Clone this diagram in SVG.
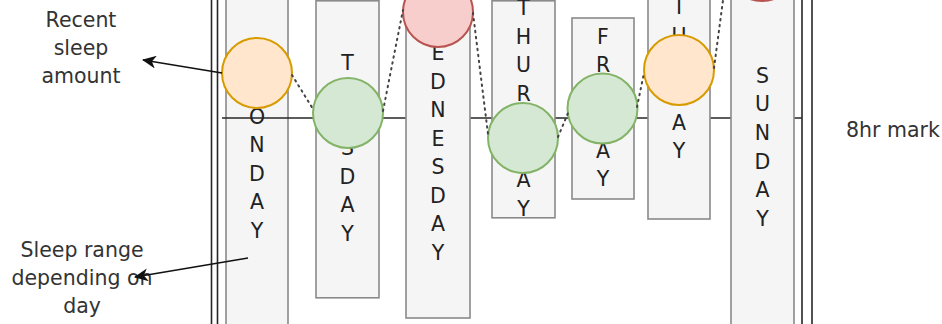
<svg xmlns="http://www.w3.org/2000/svg" width="942" height="324" viewBox="0 0 942 324">
  <style>
    .frame { stroke: #262626; stroke-width: 1.6; fill: none; }
    .bar { fill: #f5f5f5; stroke: #8a8a8a; stroke-width: 1.6; }
    .mark { stroke: #262626; stroke-width: 1.7; fill: none; }
    .day { font-family: "DejaVu Sans", "Liberation Sans", sans-serif; font-size: 20.5px; fill: #222; text-anchor: middle; }
    .label { font-family: "DejaVu Sans", "Liberation Sans", sans-serif; font-size: 20.5px; fill: #333; text-anchor: middle; }
    .dot { stroke: #444; stroke-width: 2; stroke-dasharray: 1.5 4.5; stroke-linecap: round; fill: none; }
    .ptr { stroke: #111; stroke-width: 1.6; fill: none; marker-end: url(#arrow); }
    .ok { fill: #d5e8d4; stroke: #82b366; stroke-width: 2; }
    .warn { fill: #ffe6cc; stroke: #d79b00; stroke-width: 2; }
    .bad { fill: #f8cecc; stroke: #b85450; stroke-width: 2; }
  </style>
  <defs>
    <marker id="arrow" markerWidth="15" markerHeight="13" refX="13" refY="6.5" orient="auto" markerUnits="userSpaceOnUse">
      <path d="M0,0 L14,6.5 L0,13 L4,6.5 Z" fill="#111"/>
    </marker>
  </defs>

  <rect width="942" height="324" fill="#ffffff"/>

  <!-- week frame (double borders) -->
  <g id="frame">
    <line class="frame" x1="211.5" y1="0" x2="211.5" y2="324"/>
    <line class="frame" x1="217.5" y1="0" x2="217.5" y2="324"/>
    <line class="frame" x1="802" y1="0" x2="802" y2="324"/>
    <line class="frame" x1="812" y1="0" x2="812" y2="324"/>
  </g>

  <!-- Monday sits behind the 8hr line -->
  <g id="monday">
    <rect class="bar" x="226" y="-10" width="62" height="345"/>
    <text class="day">
      <tspan x="257" y="95">M</tspan><tspan x="257" y="124">O</tspan><tspan x="257" y="152">N</tspan><tspan x="257" y="181">D</tspan><tspan x="257" y="209">A</tspan><tspan x="257" y="238">Y</tspan>
    </text>
  </g>

  <!-- 8 hour reference line -->
  <g id="eight-hour-line">
    <line class="mark" x1="222" y1="118" x2="802" y2="118"/>
  </g>

  <g id="tuesday">
    <rect class="bar" x="316" y="0.8" width="63" height="297"/>
    <text class="day">
      <tspan x="347.5" y="70">T</tspan><tspan x="347.5" y="98">U</tspan><tspan x="347.5" y="127">E</tspan><tspan x="347.5" y="155">S</tspan><tspan x="347.5" y="184">D</tspan><tspan x="347.5" y="212">A</tspan><tspan x="347.5" y="241">Y</tspan>
    </text>
  </g>

  <g id="wednesday">
    <rect class="bar" x="406" y="-10" width="64" height="328"/>
    <text class="day">
      <tspan x="438" y="32">W</tspan><tspan x="438" y="60">E</tspan><tspan x="438" y="89">D</tspan><tspan x="438" y="117">N</tspan><tspan x="438" y="146">E</tspan><tspan x="438" y="174">S</tspan><tspan x="438" y="203">D</tspan><tspan x="438" y="231">A</tspan><tspan x="438" y="260">Y</tspan>
    </text>
  </g>

  <g id="thursday">
    <rect class="bar" x="492" y="0.8" width="63" height="217"/>
    <text class="day">
      <tspan x="523.5" y="15">T</tspan><tspan x="523.5" y="44">H</tspan><tspan x="523.5" y="72">U</tspan><tspan x="523.5" y="101">R</tspan><tspan x="523.5" y="129">S</tspan><tspan x="523.5" y="158">D</tspan><tspan x="523.5" y="187">A</tspan><tspan x="523.5" y="216">Y</tspan>
    </text>
  </g>

  <g id="friday">
    <rect class="bar" x="572" y="18" width="62" height="181"/>
    <text class="day">
      <tspan x="603" y="44">F</tspan><tspan x="603" y="72">R</tspan><tspan x="603" y="101">I</tspan><tspan x="603" y="129">D</tspan><tspan x="603" y="158">A</tspan><tspan x="603" y="186">Y</tspan>
    </text>
  </g>

  <g id="saturday">
    <rect class="bar" x="648" y="-10" width="62" height="229"/>
    <text class="day">
      <tspan x="679" y="13.5">T</tspan><tspan x="679" y="42.5">U</tspan><tspan x="679" y="71.5">R</tspan><tspan x="679" y="100.5">D</tspan><tspan x="679" y="129.5">A</tspan><tspan x="679" y="158">Y</tspan>
    </text>
  </g>

  <g id="sunday">
    <rect class="bar" x="731" y="-10" width="63" height="345"/>
    <text class="day">
      <tspan x="762.5" y="82.5">S</tspan><tspan x="762.5" y="111">U</tspan><tspan x="762.5" y="140">N</tspan><tspan x="762.5" y="168.5">D</tspan><tspan x="762.5" y="197">A</tspan><tspan x="762.5" y="226">Y</tspan>
    </text>
  </g>

  <!-- recent sleep amount per day -->
  <g id="amount-mon"><circle class="warn" cx="257" cy="73" r="35"/></g>
  <g id="amount-tue"><circle class="ok" cx="348" cy="113" r="35"/></g>
  <g id="amount-wed"><circle class="bad" cx="438" cy="12" r="35"/></g>
  <g id="amount-thu"><circle class="ok" cx="523" cy="138" r="35"/></g>
  <g id="amount-fri"><circle class="ok" cx="602.5" cy="108.5" r="35"/></g>
  <g id="amount-sat"><circle class="warn" cx="679" cy="70" r="35"/></g>
  <g id="amount-sun"><circle class="bad" cx="762" cy="-34" r="35"/></g>

  <g id="label-recent">
    <text class="label"><tspan x="81" y="27">Recent</tspan><tspan x="81" y="55">sleep</tspan><tspan x="81" y="83">amount</tspan></text>
  </g>
  <g id="label-range">
    <text class="label"><tspan x="82" y="257">Sleep range</tspan><tspan x="82" y="285">depending on</tspan><tspan x="82" y="313">day</tspan></text>
  </g>
  <g id="label-8hr">
    <text class="label" style="text-anchor:start" x="846" y="136.5">8hr mark</text>
  </g>

  <!-- dotted trend between daily amounts, plus the two pointer arrows -->
  <g id="connectors">
    <path class="dot" d="M292,75 L313,109"/>
    <path class="dot" d="M383,111 Q393,60 403,10"/>
    <path class="dot" d="M473,13 L488,134"/>
    <path class="dot" d="M558,137 L568,113"/>
    <path class="dot" d="M637,107 L644,73"/>
    <path class="dot" d="M714,68 L727,-30"/>
    <path class="ptr" d="M222,73 L143,60"/>
    <path class="ptr" d="M248,258 L135,277"/>
  </g>
</svg>
